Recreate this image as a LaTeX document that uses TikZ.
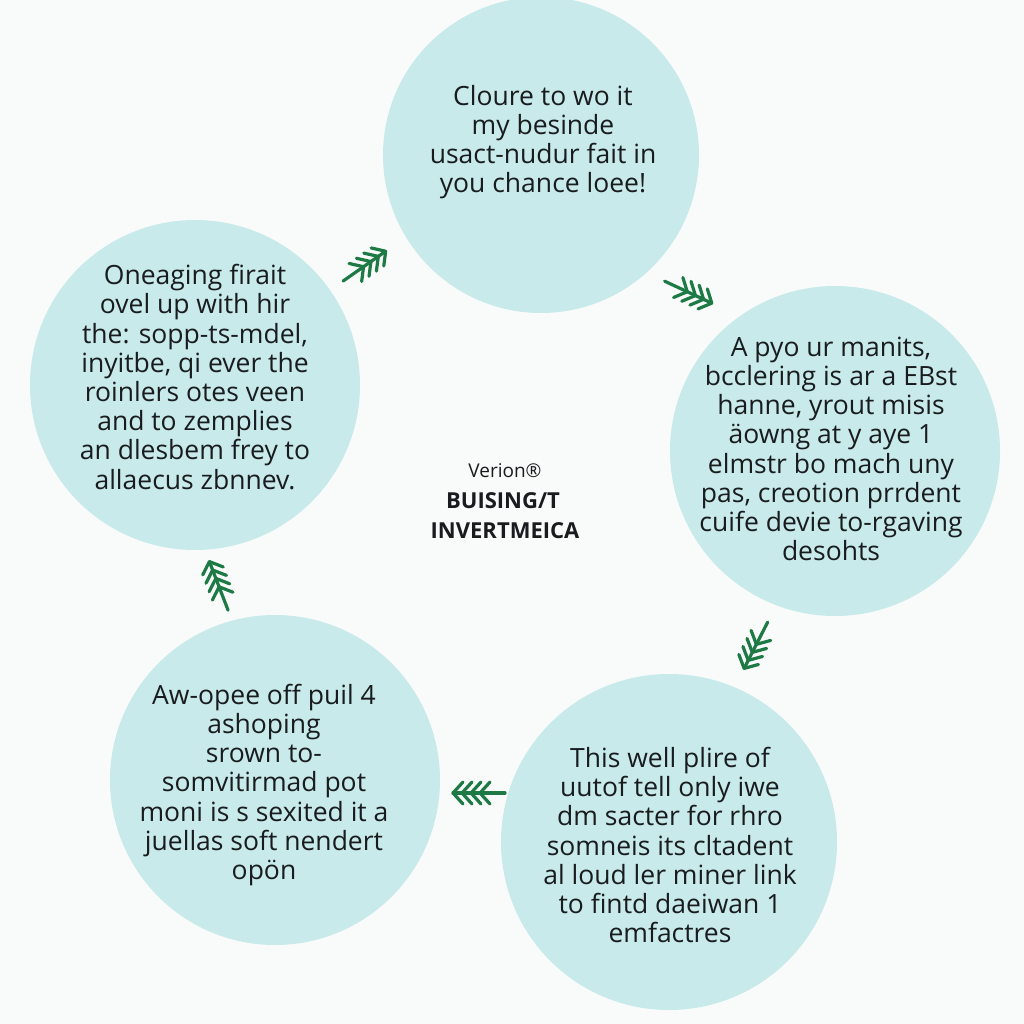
\documentclass[tikz,border=0pt]{standalone}
\usepackage{fontspec}
\setmainfont{Open Sans}
\definecolor{bubblefill}{RGB}{201,234,234}
\definecolor{bg}{RGB}{249,251,250}
\definecolor{ferngreen}{RGB}{29,122,69}
\definecolor{ink}{RGB}{25,28,30}
\tikzset{
  bubble/.style={circle, fill=bubblefill, draw=none, inner sep=0pt},
  bubbletext/.style={align=center, text=ink, inner sep=0pt, font=\fontsize{26.5}{29.2}\selectfont},
  centertext/.style={align=center, text=ink, inner sep=0pt},
  fernline/.style={draw=ferngreen, line width=3.2pt, line cap=round, line join=round},
  fern/.pic={
    \draw[fernline] (-28,0) -- (24,0);
    \foreach \h in {24,15,6,-3} {
      \draw[fernline] (\h-10,11) -- (\h,0) -- (\h-10,-11);
    }
  }
}
\begin{document}
\begin{tikzpicture}[x=1pt,y=-1pt]
  \useasboundingbox (0,0) rectangle (1024,1024);
  \fill[bg] (0,0) rectangle (1024,1024);
  \clip (0,0) rectangle (1024,1024);

  % circles
  \node[bubble, minimum size=316pt] (ctop) at (541,155) {};
  \node[bubble, minimum size=330pt] (cleft) at (195,385) {};
  \node[bubble, minimum size=330pt] (cright) at (835,451) {};
  \node[bubble, minimum size=330pt] (cbl) at (275,780) {};
  \node[bubble, minimum size=336pt] (cbr) at (669,842) {};

  % texts
  \node[bubbletext] (ttop) at (543,142) {Cloure to wo it\\my besinde\\usact-nudur fait in\\you chance loee!};
  \node[bubbletext] (tleft) at (195,377) {Oneaging firait\\ovel up with hir\\the: sopp-ts-mdel,\\inyitbe, qi ever the\\roinlers otes veen\\and to zemplies\\an dlesbem frey to\\allaecus zbnnev.};
  \node[bubbletext] (tright) at (831,449) {A pyo ur manits,\\bcclering is ar a EBst\\hanne, yrout misis\\äowng at y aye 1\\elmstr bo mach uny\\pas, creotion prrdent\\cuife devie to-rgaving\\desohts};
  \node[bubbletext] (tbl) at (264,785) {Aw-opee off puil 4\\ashoping\\srown to-\\somvitirmad pot\\moni is s sexited it a\\juellas soft nendert\\opön};
  \node[bubbletext] (tbr) at (670,845) {This well plire of\\uutof tell only iwe\\dm sacter for rhro\\somneis its cltadent\\al loud ler miner link\\to fintd daeiwan 1\\emfactres};

  % center label
  \node[centertext, font=\fontsize{19}{22}\selectfont] (cv) at (505,471) {Verion®};
  \node[centertext, font=\fontsize{22}{26}\bfseries] (cb) at (503,501) {BUISING/T};
  \node[centertext, font=\fontsize{22}{26}\bfseries] (ci) at (505,531) {INVERTMEICA};

  % fern arrows (clockwise flow)
  \pic[rotate=35] (f1) at (366,265) {fern};
  \pic[rotate=-25] (f2) at (690,293) {fern};
  \pic[rotate=-117] (f3) at (755,647) {fern};
  \pic[rotate=180] (f4) at (477,793) {fern};
  \pic[rotate=111] (f5) at (218,584) {fern};
\end{tikzpicture}
\end{document}
